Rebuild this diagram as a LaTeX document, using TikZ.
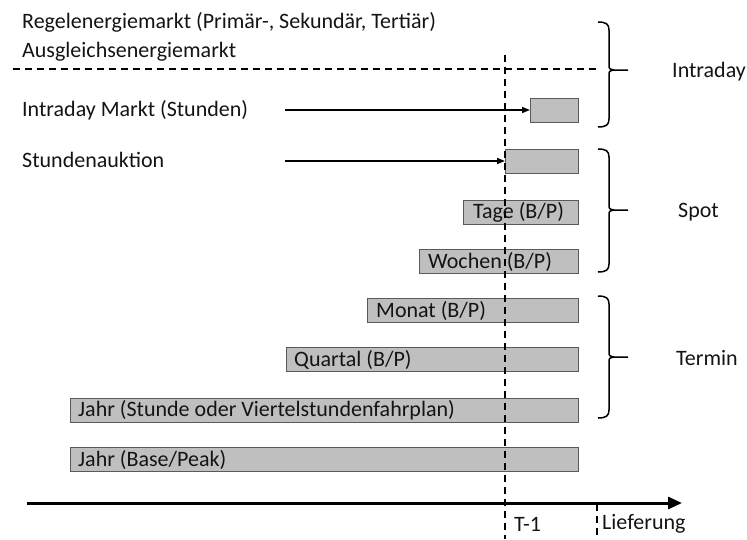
\documentclass[tikz,border=0pt]{standalone}
\usepackage{fontspec}
\setmainfont{Carlito}
\usetikzlibrary{arrows.meta}
\definecolor{boxfill}{RGB}{191,191,191}
\definecolor{boxline}{RGB}{90,90,90}
\definecolor{txt}{RGB}{20,20,20}
\tikzset{
  lbl/.style={inner sep=0pt, anchor=west, text=txt, font=\fontsize{22pt}{24pt}\selectfont},
  bar/.style={draw=boxline, fill=boxfill, line width=1.2pt, minimum height=24pt, inner sep=0pt, anchor=north west},
  conn/.style={line width=1.5pt, -{Triangle[length=8pt,width=6pt]}},
  dashline/.style={line width=1.5pt, dash pattern=on 7pt off 5pt},
  bracestyle/.style={line width=1.5pt},
  axis/.style={line width=3pt, -{Triangle[length=14pt,width=12pt]}}
}
\newcommand\rbrc[3]{%
  \draw[bracestyle] (598,#1) .. controls (606,#1) and (609,#1+2) .. (609,#1+8) -- (609,#3-6) .. controls (609,#3-1) .. (614,#3) -- (628,#3);
  \draw[bracestyle] (614,#3) .. controls (609,#3+1) .. (609,#3+6) -- (609,#2-8) .. controls (609,#2-2) and (606,#2) .. (598,#2);
}
\begin{document}
\begin{tikzpicture}[x=1pt,y=-1pt]
\useasboundingbox (0,0) rectangle (747,539);
% left labels
\node[lbl] (regel) at (22,22) {Regelenergiemarkt (Primär-, Sekundär, Tertiär)};
\node[lbl] (ausgl) at (22,52) {Ausgleichsenergiemarkt};
\node[lbl] (intra) at (22,110) {Intraday Markt (Stunden)};
\node[lbl] (stund) at (22,160) {Stundenauktion};
% bars
\node[bar, minimum width=48pt] (ibox) at (530,98) {};
\node[bar, minimum width=73pt] (sbox) at (505,149) {};
\node[bar, minimum width=115pt] (tage) at (463,200) {};
\node[bar, minimum width=159pt] (woch) at (419,249) {};
\node[bar, minimum width=211pt] (mon) at (367,298) {};
\node[bar, minimum width=292pt] (quart) at (286,347) {};
\node[bar, minimum width=508pt] (jahr1) at (70,398) {};
\node[bar, minimum width=508pt] (jahr2) at (70,447) {};
\node[lbl] (ttage) at ([xshift=10pt]tage.west) {Tage (B/P)};
\node[lbl] (twoch) at ([xshift=9pt]woch.west) {Wochen (B/P)};
\node[lbl] (tmon) at ([xshift=9pt]mon.west) {Monat (B/P)};
\node[lbl] (tquart) at ([xshift=8pt]quart.west) {Quartal (B/P)};
\node[lbl] (tjahr1) at ([xshift=8pt]jahr1.west) {Jahr (Stunde oder Viertelstundenfahrplan)};
\node[lbl] (tjahr2) at ([xshift=8pt]jahr2.west) {Jahr (Base/Peak)};
% arrows
\coordinate (ia) at (285,110);
\coordinate (sa) at (285,161);
\draw[conn] (ia) -- (ia -| ibox.west);
\draw[conn] (sa) -- (sa -| sbox.west);
% dashed lines
\coordinate (hl) at (13,69);
\coordinate (hr) at (598,69);
\draw[dashline] (hl) -- (hr);
\coordinate (vt) at (505,55);
\coordinate (vb) at (505,539);
\draw[dashline] (vt) -- (vb);
\coordinate (lt) at (597,504);
\coordinate (lb) at (597,539);
\draw[dashline] (lt) -- (lb);
% axis
\coordinate (a0) at (27,503);
\coordinate (a1) at (682,503);
\draw[axis] (a0) -- (a1);
\node[lbl] (t1) at (514,524) {T-1};
\node[lbl] (lief) at (602,524) {Lieferung};
% braces
\rbrc{22}{127}{70}
\rbrc{149}{272}{210}
\rbrc{296}{418}{357}
\node[lbl] (lintra) at (672,72) {Intraday};
\node[lbl] (lspot) at (678,212) {Spot};
\node[lbl] (lterm) at (676,358) {Termin};
\end{tikzpicture}
\end{document}
